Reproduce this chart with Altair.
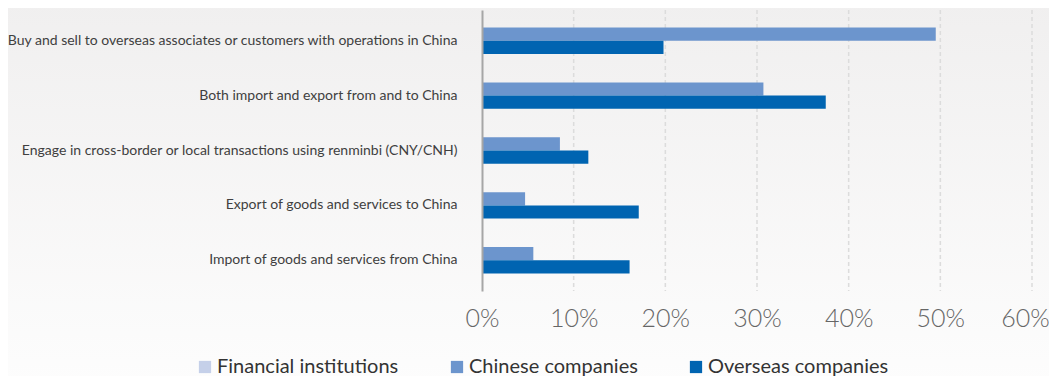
import altair as alt
import pandas as pd

categories = [
    "Buy and sell to overseas associates or customers with operations in China",
    "Both import and export from and to China",
    "Engage in cross-border or local transactions using renminbi (CNY/CNH)",
    "Export of goods and services to China",
    "Import of goods and services from China",
]
series = ["Financial institutions", "Chinese companies", "Overseas companies"]
colors = ["#c5d0e9", "#6c95cd", "#0064b1"]

chinese = [0.495, 0.307, 0.085, 0.047, 0.056]
overseas = [0.198, 0.375, 0.116, 0.171, 0.161]
ticks = [0.0, 0.1, 0.2, 0.3, 0.4, 0.5, 0.6]

rows = []
for c, v in zip(categories, chinese):
    rows.append({"category": c, "series": "Chinese companies", "value": v})
for c, v in zip(categories, overseas):
    rows.append({"category": c, "series": "Overseas companies", "value": v})
df = pd.DataFrame(rows)
grid_df = pd.DataFrame({"t": ticks[1:]})

W, H = 550, 281

bg = alt.Chart(pd.DataFrame({"k": [0]})).mark_rect(
    fill=alt.Gradient(
        gradient="linear",
        stops=[alt.GradientStop(color="#f0efef", offset=0),
               alt.GradientStop(color="#fdfdfd", offset=1)],
        x1=0, x2=0, y1=0, y2=1,
    )
).encode(x=alt.value(-482), x2=alt.value(580), y=alt.value(-10), y2=alt.value(380))

grid = alt.Chart(grid_df).mark_rule(
    color="#dcdcdc", strokeWidth=1.5, strokeDash=[4, 3]
).encode(x=alt.X("t:Q", scale=alt.Scale(domain=[0, 0.6], nice=False)),
         y=alt.value(0), y2=alt.value(H))

bars = alt.Chart(df).mark_bar().encode(
    x=alt.X(
        "value:Q",
        title=None,
        scale=alt.Scale(domain=[0, 0.6], nice=False),
        axis=alt.Axis(
            format=".0%", values=ticks, grid=False, domain=False, ticks=False,
            labelFontSize=25, labelColor="#666666", labelPadding=15,
            labelFont="Lato", labelFontWeight=300, labelFlush=False,
            labelOverlap=False, zindex=1,
            labelOffset=alt.ExprRef(expr="datum.value > 0.55 ? -7 : 0"),
        ),
    ),
    y=alt.Y(
        "category:N", sort=categories, title=None,
        scale=alt.Scale(paddingInner=0.52, paddingOuter=0.32),
        axis=alt.Axis(
            ticks=False, labelPadding=25, labelFontSize=14, labelFont="Lato",
            labelColor="#404040", labelLimit=700, domainColor="#a6a6a6",
            domainWidth=2, grid=False, zindex=1,
        ),
    ),
    yOffset=alt.YOffset("series:N", sort=series[1:],
                        scale=alt.Scale(domain=series[1:], paddingInner=0, paddingOuter=0)),
    color=alt.Color(
        "series:N",
        scale=alt.Scale(domain=series, range=colors),
        legend=alt.Legend(
            title=None, orient="none", direction="horizontal",
            legendX=-287, legendY=347, symbolType="square", symbolSize=150,
            symbolStrokeWidth=0, labelFontSize=20, labelFont="Lato",
            labelColor="#333333", columnPadding=48, labelOffset=2, padding=0,
            labelLimit=400,
        ),
    ),
)

chart = alt.layer(bg, grid, bars).properties(
    width=W, height=H,
    autosize=alt.AutoSizeParams(type="none"),
    padding={"left": 474, "top": 2, "right": 17, "bottom": 85},
).configure_view(stroke=None).configure(background="#ffffff")

chart.save("out.html", embed_options={"renderer": "svg", "actions": False})
